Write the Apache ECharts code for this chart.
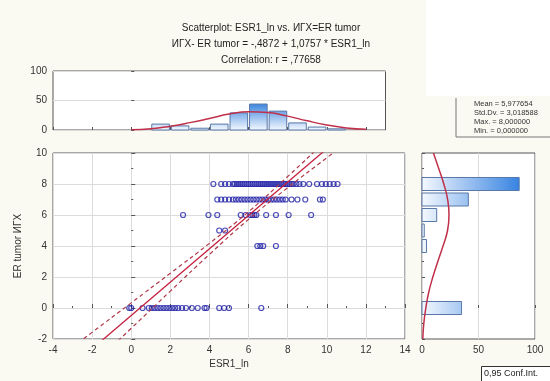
<!DOCTYPE html>
<html style="height: 100%">
<head>
    <meta charset="utf-8">
</head>
<body style="height: 100%; margin: 0; background: #fbfaf2">
<div id="container" style="width: 550px; height: 381px"></div>
<script type="text/javascript" src="https://cdn.jsdelivr.net/npm/echarts@6/dist/echarts.min.js"></script>
<script type="text/javascript">
    // ESR1_ln values for each ИГХ score
    var row8 = [4.2, 4.6, 4.8, 5.0, 5.2, 5.3, 5.4, 5.5, 5.6, 5.7, 5.8, 5.9, 6.0, 6.1, 6.2, 6.3, 6.4, 6.5, 6.6, 6.7,
        6.8, 6.9, 7.0, 7.1, 7.2, 7.3, 7.4, 7.5, 7.6, 7.7, 7.8, 7.9, 8.0, 8.1, 8.2, 8.3, 8.45, 8.6, 8.8, 9.1,
        9.5, 9.75, 9.95, 10.15, 10.35, 10.55];
    var row7 = [4.4, 4.6, 4.8, 5.0, 5.2, 5.35, 5.5, 5.65, 5.8, 5.95, 6.1, 6.25, 6.4, 6.55, 6.7, 6.85, 7.0, 7.15,
        7.3, 7.45, 7.6, 7.75, 7.9, 8.2, 8.5, 8.9, 9.65, 9.8];
    var row6 = [2.65, 3.95, 4.4, 5.6, 5.85, 6.1, 6.2, 6.3, 6.4, 6.9, 7.4, 8.05, 9.2];
    var row5 = [4.5, 4.8];
    var row4 = [6.45, 6.6, 6.75, 7.4];
    var row0 = [-0.1, 0.0, 0.58, 0.9, 1.05, 1.2, 1.35, 1.5, 1.65, 1.8, 1.95, 2.1, 2.25, 2.4, 2.6, 2.8, 3.1,
        3.4, 3.75, 3.85, 4.5, 4.75, 5.0, 6.65];

    // regression line and 0.95 confidence band
    var fitX = [-3, 11];
    var fitY = [-3.71, 11.35];
    var bandX = [-3, -2, 0, 2, 4, 6, 8, 10, 11];
    var bandUpper = [-2.52, -1.57, 0.33, 2.24, 4.17, 6.21, 8.48, 10.85, 12.04];
    var bandLower = [-4.91, -3.71, -1.31, 1.09, 3.46, 5.72, 7.76, 9.69, 10.65];

    // top histogram (ESR1_ln): bin start, bin end, count
    var topBinStart = [1.05, 2.05, 3.05, 4.05, 5.05, 6.05, 7.05, 8.05, 9.05, 10.05];
    var topBinEnd = [1.95, 2.95, 3.95, 4.95, 5.95, 6.95, 7.95, 8.95, 9.95, 10.95];
    var topCounts = [10, 7, 3, 10, 29, 44, 32, 12, 5, 2];
    var topCurveX = [0, 1, 2, 3, 4, 5, 6, 7, 8, 9, 10, 11, 12];
    var topCurveY = [0.4, 2, 6.5, 12.5, 19.5, 27, 31, 29.5, 23.5, 15.5, 8.5, 3.5, 1.2];

    // right histogram (ИГХ): score, count
    var rightScores = [0, 4, 5, 6, 7, 8];
    var rightCounts = [35, 4, 2, 13, 41, 86];
    var rightCurveY = [-2, -1, 0, 1, 2, 3, 4, 5, 6, 7, 8, 9, 10];
    var rightCurveX = [0.7, 1.6, 3.4, 5.9, 9.6, 14, 18.6, 22.6, 23.9, 22.7, 19.3, 14.8, 10.1];

    var statLines = ['Mean = 5,977654', 'Std.Dv. = 3,018588', 'Max. = 8,000000', 'Min. = 0,000000'];

    var dom = document.getElementById("container");
    var myChart = echarts.init(dom);

    var pts = [];
    [[row8, 8], [row7, 7], [row6, 6], [row5, 5], [row4, 4], [row0, 0]].forEach(function (r) {
        r[0].forEach(function (x) { pts.push([x, r[1]]); });
    });
    function pairs(a, b) {
        return a.map(function (v, i) { return [v, b[i]]; });
    }
    var topData = topCounts.map(function (c, i) { return [topBinStart[i], topBinEnd[i], c]; });
    var rightData = rightCounts.map(function (c, i) { return [rightScores[i] - 0.42, rightScores[i] + 0.42, c]; });

    var txt = { color: '#333', fontSize: 10, fontFamily: 'Liberation Sans' };
    var frame = { show: true, borderColor: '#555', borderWidth: 1, backgroundColor: '#fff' };

    var option = {
        animation: false,
        textStyle: { fontFamily: 'Liberation Sans' },
        title: {
            text: 'Scatterplot: ESR1_ln vs. ИГХ=ER tumor\nИГХ- ER tumor = -,4872 + 1,0757 * ESR1_ln\nCorrelation: r = ,77658',
            left: 266, top: 15, textAlign: 'center',
            textStyle: { fontSize: 10, fontWeight: 'normal', color: '#222', lineHeight: 16 }
        },
        grid: [
            Object.assign({ left: 53, top: 153, width: 352, height: 186 }, frame),
            Object.assign({ left: 53, top: 71, width: 332.5, height: 59 }, frame),
            Object.assign({ left: 422, top: 153, width: 113, height: 186 }, frame)
        ],
        xAxis: [{
            gridIndex: 0, type: 'value', min: -4, max: 14, interval: 2,
            name: 'ESR1_ln', nameLocation: 'middle', nameGap: 20, nameTextStyle: txt,
            axisLine: { show: false },
            axisTick: { inside: true, length: 4, lineStyle: { color: '#555' } },
            minorTick: { show: true, splitNumber: 2, length: 2, lineStyle: { color: '#555' } },
            axisLabel: Object.assign({ margin: 6 }, txt),
            splitLine: { lineStyle: { color: '#dcdcdc' } }
        }, {
            gridIndex: 1, type: 'value', min: -4, max: 13, interval: 2,
            axisLine: { show: false }, axisLabel: { show: false },
            axisTick: { inside: true, length: 3, lineStyle: { color: '#555' } },
            splitLine: { show: false }
        }, {
            gridIndex: 2, type: 'value', min: 0, max: 100, interval: 50,
            axisLine: { show: false },
            axisTick: { inside: true, length: 3, lineStyle: { color: '#555' } },
            axisLabel: Object.assign({ margin: 6 }, txt),
            splitLine: { lineStyle: { color: '#dcdcdc' } }
        }],
        yAxis: [{
            gridIndex: 0, type: 'value', min: -2, max: 10, interval: 2,
            name: 'ER tumor ИГХ', nameLocation: 'middle', nameGap: 30, nameTextStyle: txt,
            axisLine: { show: false },
            axisTick: { inside: true, length: 4, lineStyle: { color: '#555' } },
            minorTick: { show: true, splitNumber: 2, length: 2, lineStyle: { color: '#555' } },
            axisLabel: Object.assign({ margin: 6 }, txt),
            splitLine: { lineStyle: { color: '#dcdcdc' } }
        }, {
            gridIndex: 1, type: 'value', min: 0, max: 100, interval: 50,
            axisLine: { show: false },
            axisTick: { inside: true, length: 3, lineStyle: { color: '#555' } },
            axisLabel: Object.assign({ margin: 6 }, txt),
            splitLine: { lineStyle: { color: '#dcdcdc' } }
        }, {
            gridIndex: 2, type: 'value', min: -2, max: 10, interval: 2,
            axisLine: { show: false }, axisLabel: { show: false },
            axisTick: { inside: true, length: 3, lineStyle: { color: '#555' } },
            minorTick: { show: true, splitNumber: 2, length: 2, lineStyle: { color: '#555' } },
            splitLine: { show: false }
        }],
        series: [{
            type: 'custom', xAxisIndex: 1, yAxisIndex: 1,
            data: topData,
            encode: { x: [0, 1], y: 2 },
            renderItem: function (params, api) {
                var p0 = api.coord([api.value(0), 0]);
                var p1 = api.coord([api.value(1), api.value(2)]);
                var top = api.coord([0, 45])[1];
                return {
                    type: 'rect',
                    shape: { x: p0[0], y: p1[1], width: p1[0] - p0[0], height: p0[1] - p1[1] },
                    style: {
                        fill: new echarts.graphic.LinearGradient(0, p0[1], 0, top, [
                            { offset: 0, color: '#f4f8fe' }, { offset: 1, color: '#3a84de' }], true),
                        stroke: '#5878a8', lineWidth: 1
                    }
                };
            }
        }, {
            type: 'line', xAxisIndex: 1, yAxisIndex: 1, smooth: true, symbol: 'none',
            data: pairs(topCurveX, topCurveY),
            lineStyle: { color: '#c0304a', width: 1.5 }
        }, {
            type: 'custom', xAxisIndex: 2, yAxisIndex: 2,
            data: rightData,
            encode: { y: [0, 1], x: 2 },
            renderItem: function (params, api) {
                var p0 = api.coord([0, api.value(1)]);
                var p1 = api.coord([api.value(2), api.value(0)]);
                var right = api.coord([90, 0])[0];
                return {
                    type: 'rect',
                    shape: { x: p0[0], y: p0[1], width: p1[0] - p0[0], height: p1[1] - p0[1] },
                    style: {
                        fill: new echarts.graphic.LinearGradient(p0[0], 0, right, 0, [
                            { offset: 0, color: '#f4f8fe' }, { offset: 1, color: '#2f7ee0' }], true),
                        stroke: '#5878a8', lineWidth: 1
                    }
                };
            }
        }, {
            type: 'line', xAxisIndex: 2, yAxisIndex: 2, smooth: true, symbol: 'none',
            data: pairs(rightCurveX, rightCurveY),
            lineStyle: { color: '#c0304a', width: 1.5 }
        }, {
            type: 'scatter', xAxisIndex: 0, yAxisIndex: 0,
            data: pts, symbol: 'circle', symbolSize: 5,
            itemStyle: { color: 'rgba(0,0,0,0)', borderColor: '#2020a8', borderWidth: 1.2 }
        }, {
            type: 'line', xAxisIndex: 0, yAxisIndex: 0, symbol: 'none',
            data: pairs(fitX, fitY),
            lineStyle: { color: '#c4203e', width: 1.3 }
        }, {
            type: 'line', xAxisIndex: 0, yAxisIndex: 0, symbol: 'none', smooth: true,
            data: pairs(bandX, bandUpper),
            lineStyle: { color: '#b03848', width: 1.2, type: [4, 3] }
        }, {
            type: 'line', xAxisIndex: 0, yAxisIndex: 0, symbol: 'none', smooth: true,
            data: pairs(bandX, bandLower),
            lineStyle: { color: '#b03848', width: 1.2, type: [4, 3] }
        }],
        graphic: [{
            type: 'rect', z: -10, left: 426, top: 0,
            shape: { width: 124, height: 96 }, style: { fill: '#ffffff' }
        }, {
            type: 'polyline', shape: { points: [[456, 98], [456, 137], [550, 137]] },
            style: { stroke: '#777', lineWidth: 1, fill: null }
        }, {
            type: 'text', left: 474, top: 100,
            style: { text: statLines.join('\n'), fontSize: 7.5, lineHeight: 8.7, fill: '#333', fontFamily: 'Liberation Sans' }
        }, {
            type: 'rect', left: 481, top: 366,
            shape: { width: 70, height: 16 }, style: { fill: '#fff', stroke: '#333', lineWidth: 1 }
        }, {
            type: 'text', left: 484, top: 369,
            style: { text: '0,95 Conf.Int.', fontSize: 9, fill: '#222', fontFamily: 'Liberation Sans' }
        }]
    };

    if (option && typeof option === 'object') {
        myChart.setOption(option);
    }
</script>
</body>
</html>
